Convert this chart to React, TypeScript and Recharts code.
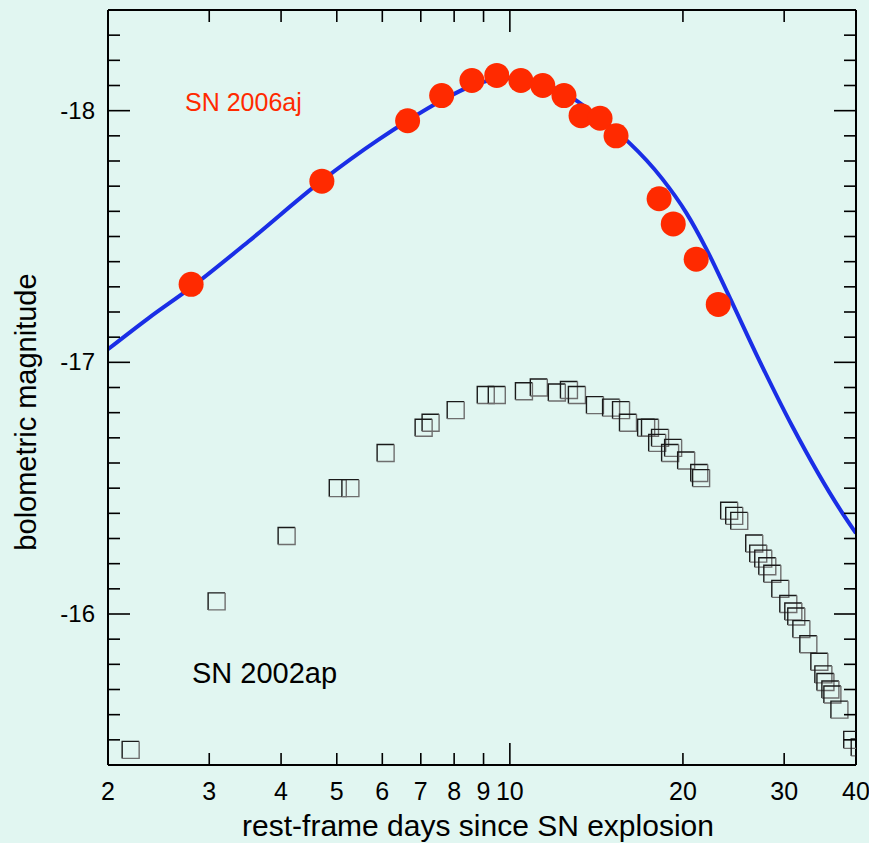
import React from 'react';
import { ComposedChart, Line, Scatter, XAxis, YAxis } from 'recharts';

// SN 2006aj model light curve (blue)
const modelDays = [2.0, 2.35, 2.79, 3.51, 4.71, 5.91, 6.64, 7.61, 8.59, 9.76, 10.79, 12.42, 14.52, 16.12, 18.4, 20.26, 21.95, 24.07, 26.94, 30.99, 37.88, 40];
const modelMag = [-17.052, -17.175, -17.298, -17.48, -17.722, -17.885, -17.96, -18.04, -18.099, -18.129, -18.123, -18.071, -17.96, -17.873, -17.73, -17.595, -17.452, -17.262, -17.024, -16.746, -16.401, -16.321];

// SN 2006aj observed points (red)
const ajDays = [2.79, 4.71, 6.64, 7.61, 8.59, 9.49, 10.45, 11.41, 12.42, 13.3, 14.35, 15.3, 18.18, 19.24, 21.09, 23.04];
const ajMag = [-17.31, -17.72, -17.96, -18.06, -18.12, -18.14, -18.12, -18.1, -18.06, -17.98, -17.97, -17.9, -17.65, -17.55, -17.41, -17.23];

// SN 2002ap observed points (open squares)
const apDays = [2.19, 3.09, 4.09, 5.02, 5.28, 6.08, 7.08, 7.28, 8.05, 9.08, 9.49, 10.58, 11.23, 12.07, 12.67, 13.08, 14.06, 15.0, 15.61, 16.05, 17.26, 17.53, 18.25, 18.04, 19.23, 19.0, 20.26, 21.35, 21.51, 24.07, 24.56, 25.06, 26.61, 27.04, 27.59, 28.04, 28.61, 29.54, 30.5, 31.12, 31.49, 32.14, 33.05, 34.54, 35.1, 35.39, 36.1, 36.39, 37.43, 39.4, 40.6];
const apMag = [-15.46, -16.05, -16.31, -16.5, -16.5, -16.64, -16.74, -16.76, -16.81, -16.87, -16.87, -16.885, -16.9, -16.88, -16.89, -16.87, -16.83, -16.82, -16.81, -16.76, -16.74, -16.74, -16.7, -16.68, -16.66, -16.64, -16.61, -16.56, -16.54, -16.41, -16.39, -16.37, -16.28, -16.24, -16.22, -16.19, -16.16, -16.1, -16.04, -16.01, -15.99, -15.94, -15.88, -15.81, -15.76, -15.73, -15.7, -15.68, -15.62, -15.5, -15.47];

const xTicks = [2, 3, 4, 5, 6, 7, 8, 9, 10, 20, 30, 40];
const yMajor = [-18, -17, -16];

const yTicks: number[] = [];
for (let i = -183; i <= -155; i++) yTicks.push(i / 10);

const BG = '#e1f6f1';
const FONT = '"Liberation Sans", Arial, sans-serif';

const modelData = modelDays.map((d, i) => ({ day: d, mag: modelMag[i] }));
const ajData = ajDays.map((d, i) => ({ day: d, mag: ajMag[i] }));
const apData = apDays.map((d, i) => ({ day: d, mag: apMag[i] }));

const isMajorY = (v: number) => yMajor.some((m) => Math.abs(m - v) < 1e-6);

const BottomTick = (props: any) => {
  const { x, y, payload } = props;
  const len = payload.value === 10 ? 22 : 12;
  return (
    <g>
      <line x1={x} y1={y} x2={x} y2={y - len} stroke="#000" strokeWidth={1.6} />
      <text x={x} y={y + 35} textAnchor="middle" fontSize={25} fontFamily={FONT} fill="#000">
        {payload.value}
      </text>
    </g>
  );
};

const TopTick = (props: any) => {
  const { x, y, payload } = props;
  const len = payload.value === 10 ? 22 : 12;
  return <line x1={x} y1={y} x2={x} y2={y + len} stroke="#000" strokeWidth={1.6} />;
};

const LeftTick = (props: any) => {
  const { x, y, payload } = props;
  const major = isMajorY(payload.value);
  return (
    <g>
      <line x1={x} y1={y} x2={x + (major ? 22 : 12)} y2={y} stroke="#000" strokeWidth={1.6} />
      {major && (
        <text x={x - 13} y={y + 8} textAnchor="end" fontSize={24} fontFamily={FONT} fill="#000">
          {Math.round(payload.value)}
        </text>
      )}
    </g>
  );
};

const RightTick = (props: any) => {
  const { x, y, payload } = props;
  const major = isMajorY(payload.value);
  return <line x1={x} y1={y} x2={x - (major ? 22 : 12)} y2={y} stroke="#000" strokeWidth={1.6} />;
};

const OpenSquare = (props: any) => {
  const { cx, cy } = props;
  const s = 8.5;
  return (
    <g>
      <path d={`M${cx - s},${cy + s} L${cx - s},${cy - s} L${cx + s},${cy - s}`} fill="none" stroke="#1a1a1a" strokeWidth={1.4} />
      <path d={`M${cx + s},${cy - s} L${cx + s},${cy + s} L${cx - s},${cy + s}`} fill="none" stroke="#6e6e6e" strokeWidth={1.4} />
    </g>
  );
};

const RedDot = (props: any) => {
  const { cx, cy } = props;
  return <circle cx={cx} cy={cy} r={12.5} fill="#ff2a00" />;
};

export default function App() {
  return (
    <div style={{ position: 'absolute', left: 0, top: 0, width: 869, height: 843, background: BG, overflow: 'hidden' }}>
      <ComposedChart width={869} height={843} margin={{ top: 0, right: 0, bottom: 0, left: 0 }}>
        <XAxis
          xAxisId="b"
          dataKey="day"
          type="number"
          scale="log"
          domain={[2, 40]}
          allowDataOverflow
          ticks={xTicks}
          interval={0}
          orientation="bottom"
          height={78}
          tickSize={0}
          tickMargin={0}
          tickLine={false}
          axisLine={{ stroke: '#000', strokeWidth: 2 }}
          tick={<BottomTick />}
        />
        <XAxis
          xAxisId="t"
          dataKey="day"
          type="number"
          scale="log"
          domain={[2, 40]}
          allowDataOverflow
          ticks={xTicks}
          interval={0}
          orientation="top"
          height={10}
          tickSize={0}
          tickMargin={0}
          tickLine={false}
          axisLine={{ stroke: '#000', strokeWidth: 2 }}
          tick={<TopTick />}
        />
        <YAxis
          yAxisId="l"
          dataKey="mag"
          type="number"
          domain={[-18.4, -15.4]}
          reversed
          allowDataOverflow
          ticks={yTicks}
          interval={0}
          orientation="left"
          width={108}
          tickSize={0}
          tickMargin={0}
          tickLine={false}
          axisLine={{ stroke: '#000', strokeWidth: 2 }}
          tick={<LeftTick />}
        />
        <YAxis
          yAxisId="r"
          dataKey="mag"
          type="number"
          domain={[-18.4, -15.4]}
          reversed
          allowDataOverflow
          ticks={yTicks}
          interval={0}
          orientation="right"
          width={13}
          tickSize={0}
          tickMargin={0}
          tickLine={false}
          axisLine={{ stroke: '#000', strokeWidth: 2 }}
          tick={<RightTick />}
        />
        <Scatter xAxisId="b" yAxisId="l" data={apData} dataKey="mag" shape={<OpenSquare />} isAnimationActive={false} />
        <Scatter xAxisId="b" yAxisId="l" data={ajData} dataKey="mag" shape={<RedDot />} isAnimationActive={false} />
        <Line
          xAxisId="b"
          yAxisId="l"
          data={modelData}
          dataKey="mag"
          type="monotone"
          stroke="#1a2ee6"
          strokeWidth={4}
          dot={false}
          activeDot={false}
          isAnimationActive={false}
        />
      </ComposedChart>
      <svg width={869} height={843} style={{ position: 'absolute', left: 0, top: 0, pointerEvents: 'none' }}>
        <text x={185} y={111} fontSize={25} fontFamily={FONT} fill="#ff2a00">SN 2006aj</text>
        <text x={192} y={683} fontSize={29} fontFamily={FONT} fill="#000">SN 2002ap</text>
        <text x={478} y={836} textAnchor="middle" fontSize={30} fontFamily={FONT} fill="#000">
          rest-frame days since SN explosion
        </text>
        <text
          x={0}
          y={0}
          transform="translate(36,412) rotate(-90)"
          textAnchor="middle"
          fontSize={29}
          fontFamily={FONT}
          fill="#000"
        >
          bolometric magnitude
        </text>
      </svg>
    </div>
  );
}
